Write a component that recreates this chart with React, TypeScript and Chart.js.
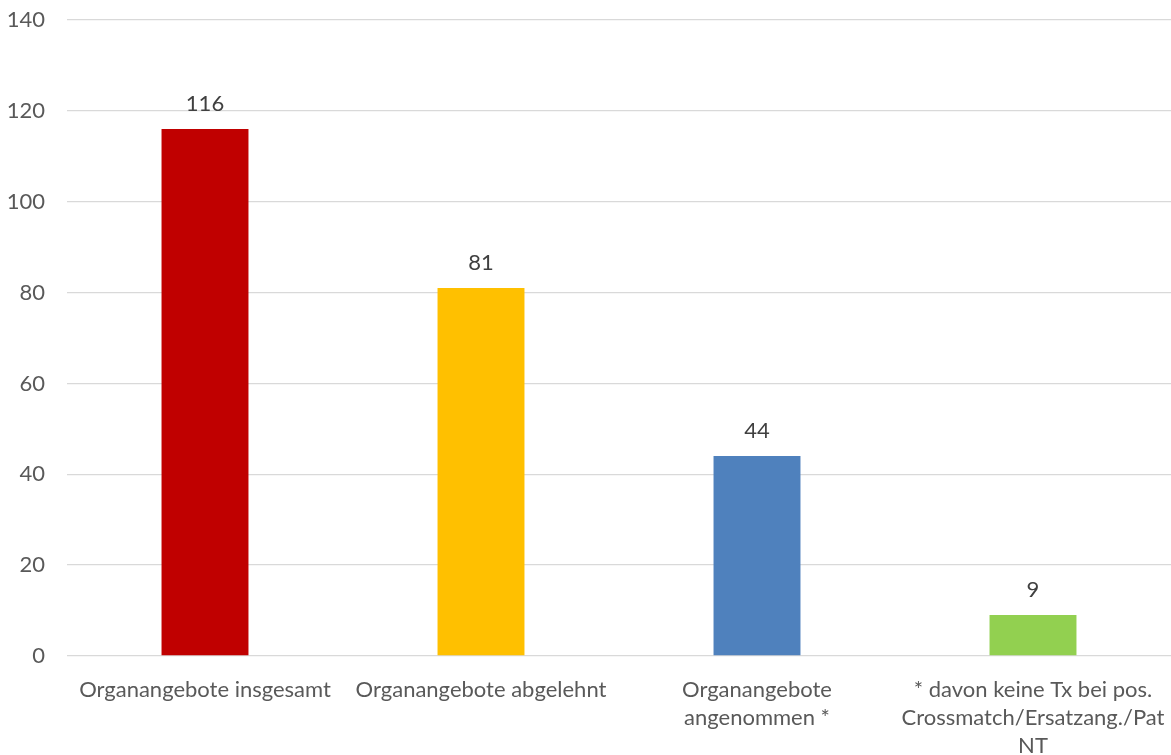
import React, { useEffect, useRef } from "react";
import { Chart, registerables } from "chart.js";

Chart.register(...registerables);

const categories: string[][] = [
  ["Organangebote insgesamt"],
  ["Organangebote abgelehnt"],
  ["Organangebote", "angenommen *"],
  ["* davon keine Tx bei pos.", "Crossmatch/Ersatzang./Pat", "NT"],
];
const values: number[] = [116, 81, 44, 9];
const barColors: string[] = ["#C00000", "#FFC000", "#4F81BD", "#92D050"];
const yMin = 0;
const yMax = 140;
const yStep = 20;

const FONT = "Lato, 'Open Sans', sans-serif";
const TEXT = "#595959";
const FS = 22;

const valueLabels = {
  id: "valueLabels",
  afterDatasetsDraw(chart: any) {
    const ctx = chart.ctx;
    const meta = chart.getDatasetMeta(0);
    ctx.save();
    ctx.font = `${FS}px ${FONT}`;
    ctx.fillStyle = "#404040";
    ctx.textAlign = "center";
    ctx.textBaseline = "middle";
    meta.data.forEach((bar: any, i: number) => {
      ctx.fillText(String(values[i]), bar.x, bar.y - 25);
    });
    ctx.restore();
  },
};

export default function App() {
  const ref = useRef<HTMLCanvasElement | null>(null);
  useEffect(() => {
    document.body.style.margin = "0";
    if (!ref.current) return;
    const chart = new Chart(ref.current, {
      type: "bar",
      data: {
        labels: categories,
        datasets: [
          {
            data: values,
            backgroundColor: barColors,
            borderWidth: 0,
            categoryPercentage: 1,
            barPercentage: 0.315,
          },
        ],
      },
      options: {
        animation: false,
        responsive: false,
        maintainAspectRatio: false,
        devicePixelRatio: 1,
        layout: { padding: { top: 20, right: 0, left: 0, bottom: 0 } },
        plugins: {
          legend: { display: false },
          tooltip: { enabled: false },
        },
        scales: {
          x: {
            grid: { display: false, drawTicks: false },
            border: { display: false },
            ticks: {
              color: TEXT,
              font: { family: FONT, size: FS, lineHeight: 28 / FS },
              padding: 20,
              maxRotation: 0,
              autoSkip: false,
            },
            afterFit(scale: any) {
              scale.height = 99;
              scale.paddingLeft = 0;
              scale.paddingRight = 0;
            },
          },
          y: {
            min: yMin,
            max: yMax,
            ticks: {
              stepSize: yStep,
              color: TEXT,
              font: { family: FONT, size: FS },
              padding: 22,
            },
            grid: { color: "#D9D9D9", lineWidth: 1.3, drawTicks: false },
            border: { display: false },
            afterFit(scale: any) {
              scale.width = 67;
              scale.paddingTop = 0;
              scale.paddingBottom = 0;
            },
          },
        },
      },
      plugins: [valueLabels],
    });
    return () => chart.destroy();
  }, []);
  return (
    <div style={{ width: 1171, height: 755 }}>
      <canvas ref={ref} width={1171} height={755} style={{ display: "block" }} />
    </div>
  );
}
